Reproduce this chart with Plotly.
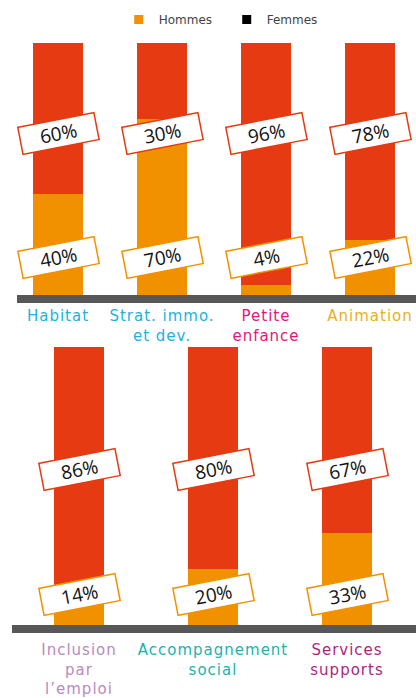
import plotly.graph_objects as go

# ---- data ----
top_categories = ["Habitat", "Strat. immo.<br>et dev.", "Petite<br>enfance", "Animation"]
top_colors = ["#1BB2E0", "#1BB2E0", "#E5157A", "#E9B01E"]
top_hommes = [40, 70, 4, 22]
top_femmes = [60, 30, 96, 78]

bot_categories = ["Inclusion<br>par<br>l’emploi", "Accompagnement<br>social", "Services<br>supports"]
bot_colors = ["#B98AC0", "#1CB2AE", "#B0237F"]
bot_hommes = [14, 20, 33]
bot_femmes = [86, 80, 67]

series_names = ["Hommes", "Femmes"]
legend_colors = ["#F29100", "#000000"]

ORANGE = "#F29100"
RED = "#E53A12"
W, H = 416, 698

fig = go.Figure()

def add_row(hommes, femmes, xa, ya, width):
    idx = list(range(len(hommes)))
    fig.add_trace(go.Bar(x=idx, y=hommes, marker=dict(color=ORANGE, line=dict(width=0)),
                         width=width, xaxis=xa, yaxis=ya, showlegend=False, hoverinfo="skip"))
    fig.add_trace(go.Bar(x=idx, y=femmes, marker=dict(color=RED, line=dict(width=0)),
                         width=width, xaxis=xa, yaxis=ya, showlegend=False, hoverinfo="skip"))

add_row(top_hommes, top_femmes, "x", "y", 50 / 104)
add_row(bot_hommes, bot_femmes, "x2", "y2", 50 / 134)

# legend-only entries
for name, col in zip(series_names, legend_colors):
    fig.add_trace(go.Scatter(x=[None], y=[None], mode="markers", name=name,
                             marker=dict(symbol="square", size=9, color=col),
                             showlegend=True, hoverinfo="skip"))

def label(xref, yref, x, y, val, border):
    fig.add_annotation(x=x, y=y, xref=xref, yref=yref, text=f"{val}%",
                       showarrow=False, textangle=-11,
                       font=dict(family="Open Sans", size=19, color="#111111"),
                       bgcolor="white", bordercolor=border, borderwidth=1.5,
                       borderpad=1, width=74, height=24)

for i, (h, f) in enumerate(zip(top_hommes, top_femmes)):
    label("x", "y", i, 64, f, RED)
    label("x", "y", i, 15, h, ORANGE)
for i, (h, f) in enumerate(zip(bot_hommes, bot_femmes)):
    label("x2", "y2", i, 56, f, RED)
    label("x2", "y2", i, 11, h, ORANGE)

def px_x(p):
    return p / W

def px_y(p):
    return (H - p) / H

def styled(texts, colors):
    out = []
    for t, c in zip(texts, colors):
        lines = t.split("<br>")
        out.append("<br>".join(f"<span style='fill:{c};letter-spacing:1px'>{ln}</span>" for ln in lines))
    return out

tick_font = dict(family="DejaVu Sans", size=15)
fig.update_layout(
    width=W, height=H, barmode="stack", bargap=0,
    margin=dict(l=0, r=0, t=0, b=0),
    plot_bgcolor="white", paper_bgcolor="white",
    showlegend=True, hovermode=False,
    legend=dict(orientation="h", x=0.545, xanchor="center", y=px_y(5), yanchor="top",
                traceorder="normal",
                font=dict(family="DejaVu Sans", size=12, color="#444444"),
                entrywidth=63, itemwidth=30),
    xaxis=dict(domain=[px_x(17), 1], range=[-41 / 104, (416 - 58) / 104],
               anchor="y", tickmode="array", tickvals=list(range(4)),
               ticktext=styled(top_categories, top_colors),
               tickfont=tick_font, showline=True, linewidth=8, linecolor="#575757",
               ticks="", showgrid=False, zeroline=False),
    yaxis=dict(domain=[px_y(295), px_y(43)], range=[0, 100], visible=False),
    xaxis2=dict(domain=[px_x(12), 1], range=[-67 / 134, (416 - 79) / 134],
                anchor="y2", tickmode="array", tickvals=list(range(3)),
                ticktext=styled(bot_categories, bot_colors), ticklabelstandoff=4,
                tickfont=tick_font, showline=True, linewidth=8, linecolor="#575757",
                ticks="", showgrid=False, zeroline=False),
    yaxis2=dict(domain=[px_y(625), px_y(347)], range=[0, 100], visible=False),
)

fig.write_html("out.html", config={"displayModeBar": False, "staticPlot": True},
               post_script="document.body.style.margin='0';document.body.style.overflow='hidden';")
